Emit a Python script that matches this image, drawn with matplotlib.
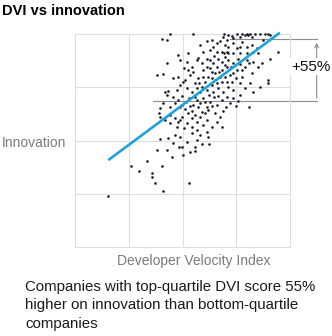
import matplotlib
matplotlib.use("Agg")
from matplotlib import pyplot as plt

plt.rcParams['font.family'] = ['Liberation Sans', 'DejaVu Sans']

# company scores (DVI 0-100, innovation 0-100)
dvi = [
    71.3, 72.9, 75.2, 77.5, 79.1, 79.8, 80.6, 81.4, 82.2, 83.7, 86.0, 88.4, 89.9, 90.7, 76.7, 73.6, 70.5, 69.0,
    48.1, 52.7, 58.1, 61.2, 63.6, 65.9, 67.4, 69.8, 71.3, 73.6, 75.2, 77.5, 79.8, 82.2, 84.5, 87.6, 85.3, 65.9,
    68.2, 69.3, 70.5, 59.7, 57.4, 71.3,
    48.8, 51.9, 54.3, 56.6, 58.9, 61.2, 62.8, 64.3, 65.9, 67.1, 68.5, 69.8, 71.3, 72.4, 73.6, 76.0, 77.5, 79.1,
    81.1, 82.9, 85.3, 86.8, 63.6, 65.1, 59.7, 55.0, 52.7, 50.7, 73.6, 76.7, 82.2,
    45.7, 48.1, 51.2, 53.5, 55.8, 57.4, 58.9, 60.5, 62.0, 63.6, 65.1, 66.7, 68.2, 69.8, 71.3, 72.9, 74.9, 76.7,
    79.1, 81.4, 82.9, 86.0, 48.8, 51.9, 54.3, 56.6, 61.2, 64.3, 69.0, 73.6, 76.7, 47.3, 50.1,
    42.6, 45.7, 48.1, 49.6, 51.6, 53.2, 55.0, 56.9, 58.1, 59.7, 61.2, 62.8, 64.6, 66.2, 68.2, 70.1, 72.1, 73.6,
    46.5, 48.8, 51.2, 54.3, 57.4, 58.9, 62.0, 65.1, 68.7, 39.5, 41.1, 44.2, 70.5, 76.0, 74.9,
    39.5, 41.9, 44.2, 46.5, 48.1, 49.6, 51.9, 54.3, 56.6, 58.1, 59.7, 61.2, 63.6, 65.9, 67.4, 54.3, 50.7, 47.3,
    56.6, 61.2, 44.2,
    43.4, 46.5, 48.8, 51.9, 54.3, 56.6, 58.1, 62.0, 49.6, 45.7, 55.8,
    15.2, 25.9, 29.8, 33.6, 35.8, 35.8, 37.2, 40.8, 40.3, 38.0, 42.6, 39.5, 45.0, 48.4, 50.4, 53.5, 55.8, 53.2,
    59.2, 62.3, 68.5, 81.1, 89.6, 89.6, 94.6, 90.9, 38.0, 41.1, 40.3, 42.9, 44.2, 55.0, 69.3, 42.6, 41.9, 43.4,
    39.2,
    62.8, 64.6, 66.7, 68.5, 70.5, 61.2, 63.6, 65.9, 67.4, 70.5, 59.7, 57.9, 62.5, 66.7, 60.5, 55.8, 53.5, 63.6,
    58.1, 72.1, 75.2, 77.7, 79.8, 69.8, 73.6, 76.7, 79.8, 82.9, 62.8, 64.3, 76.7, 52.7, 55.8, 48.8, 60.5, 49.6,
]
innovation = [
    99.5, 99.1, 99.8, 99.8, 99.5, 99.8, 99.7, 99.8, 98.8, 99.8, 99.8, 99.8, 99.8, 99.5, 98.4, 98.0, 97.2, 98.4,
    90.1, 90.9, 94.8, 96.9, 97.2, 95.6, 96.9, 94.8, 94.1, 95.6, 93.3, 96.4, 94.1, 94.8, 93.3, 97.2, 90.9, 91.7,
    91.4, 90.9, 91.7, 91.7, 88.6, 91.2,
    87.8, 87.0, 84.7, 87.8, 86.2, 88.1, 83.9, 86.2, 84.7, 82.3, 83.1, 85.4, 87.8, 84.7, 86.2, 88.1, 83.1, 84.7,
    86.2, 87.0, 84.7, 86.2, 82.3, 81.5, 83.1, 82.3, 83.1, 83.9, 81.5, 85.9, 81.5,
    79.2, 80.0, 78.4, 80.8, 76.8, 79.2, 75.3, 77.6, 80.0, 76.1, 78.4, 74.5, 77.6, 80.0, 75.3, 77.6, 79.2, 76.8,
    74.5, 76.8, 72.9, 75.3, 76.1, 74.5, 72.9, 74.5, 73.7, 72.9, 72.9, 73.7, 71.4, 73.7, 77.6,
    71.4, 70.3, 69.0, 70.9, 68.2, 69.8, 66.7, 69.0, 67.5, 69.8, 65.9, 68.2, 70.3, 66.7, 69.0, 65.6, 67.8, 69.8,
    67.5, 65.6, 64.6, 64.0, 65.6, 63.5, 64.3, 63.1, 64.0, 65.1, 67.8, 65.6, 70.6, 68.7, 66.2,
    61.2, 59.6, 62.0, 60.4, 58.8, 61.2, 58.1, 60.4, 58.8, 61.2, 57.3, 59.6, 56.5, 58.8, 61.2, 56.5, 55.7, 56.5,
    54.9, 54.1, 58.1,
    51.0, 52.6, 51.8, 49.5, 53.4, 50.2, 52.6, 51.5, 47.1, 48.7, 47.1,
    24.1, 38.0, 35.7, 40.5, 34.6, 33.0, 30.2, 26.3, 38.0, 45.5, 45.5, 50.7, 42.4, 47.1, 43.2, 44.8, 45.1, 29.9,
    48.2, 48.2, 56.5, 65.9, 78.4, 76.8, 91.4, 88.3, 80.8, 81.2, 97.7, 97.2, 99.8, 99.8, 99.8, 86.2, 73.0, 73.4,
    62.8,
    87.8, 89.7, 88.1, 87.0, 84.7, 84.7, 79.2, 76.8, 80.0, 77.6, 80.0, 76.8, 71.4, 70.9, 68.2, 70.6, 66.2, 66.2,
    72.9, 80.8, 83.1, 80.0, 87.8, 89.4, 90.9, 90.9, 90.9, 91.7, 92.5, 94.1, 94.1, 62.8, 62.0, 59.6, 62.8, 66.7,
]

# trend line end points
trend_dvi = [15.5, 95.3]
trend_innovation = [40.8, 100.6]

# quartile averages shown by the bracket
bottom_quartile_start, bottom_quartile_level = 36.1, 68.5
top_quartile_start, top_quartile_level = 72.1, 97.7
bracket_x = 112.4
uplift_label = '+55%'

fig = plt.figure(figsize=(3.32, 3.36), dpi=100)
ax = fig.add_axes([75 / 332, 1 - 247 / 336, 215 / 332, 213 / 336])
ax.set_xlim(0, 100)
ax.set_ylim(0, 100)
ax.set_xticks([25, 50, 75])
ax.set_yticks([25, 50, 75])
ax.tick_params(length=0, labelbottom=False, labelleft=False)
ax.grid(color='#dedede', linewidth=0.8)
for sp in ax.spines.values():
    sp.set_color('#dedede')
    sp.set_linewidth(0.8)
ax.set_axisbelow(True)

ax.scatter(dvi, innovation, s=3.5, color='#141a28', linewidths=0, zorder=3, clip_on=False)
ax.plot(trend_dvi, trend_innovation, color='#1fa3d6', linewidth=1.9, zorder=4,
        solid_capstyle='butt', clip_on=False)

# bracket
ax.plot([top_quartile_start, bracket_x], [top_quartile_level] * 2, color='#8c8c8c',
        linewidth=0.8, clip_on=False, zorder=2)
ax.plot([bottom_quartile_start, bracket_x], [bottom_quartile_level] * 2, color='#8c8c8c',
        linewidth=0.8, clip_on=False, zorder=2)
ax.annotate('', xy=(bracket_x, top_quartile_level - 0.5), xytext=(bracket_x, bottom_quartile_level),
            arrowprops=dict(arrowstyle='->', color='#8c8c8c', lw=0.8, mutation_scale=7),
            annotation_clip=False)
ax.text(bracket_x - 2.8, (top_quartile_level + bottom_quartile_level) / 2 + 1.5, uplift_label,
        ha='center', va='center', fontsize=11, color='#111111', zorder=6,
        bbox=dict(facecolor='white', edgecolor='none', pad=1.0), clip_on=False)

fig.text(2 / 332, 1 - 11 / 336, 'DVI vs innovation', fontsize=10.5, fontweight='bold',
         color='#000000', ha='left', va='center')
fig.text(2 / 332, 1 - 143 / 336, 'Innovation', fontsize=10, color='#7a7a7a',
         ha='left', va='center')
fig.text(194 / 332, 1 - 261 / 336, 'Developer Velocity Index', fontsize=10, color='#7a7a7a',
         ha='center', va='center')
fig.text(25 / 332, 1 - 280 / 336,
         'Companies with top-quartile DVI score 55%\nhigher on innovation than bottom-quartile\ncompanies',
         fontsize=10.8, color='#1a1a1a', ha='left', va='top', linespacing=1.4)

fig.savefig('out.png', dpi=100)
